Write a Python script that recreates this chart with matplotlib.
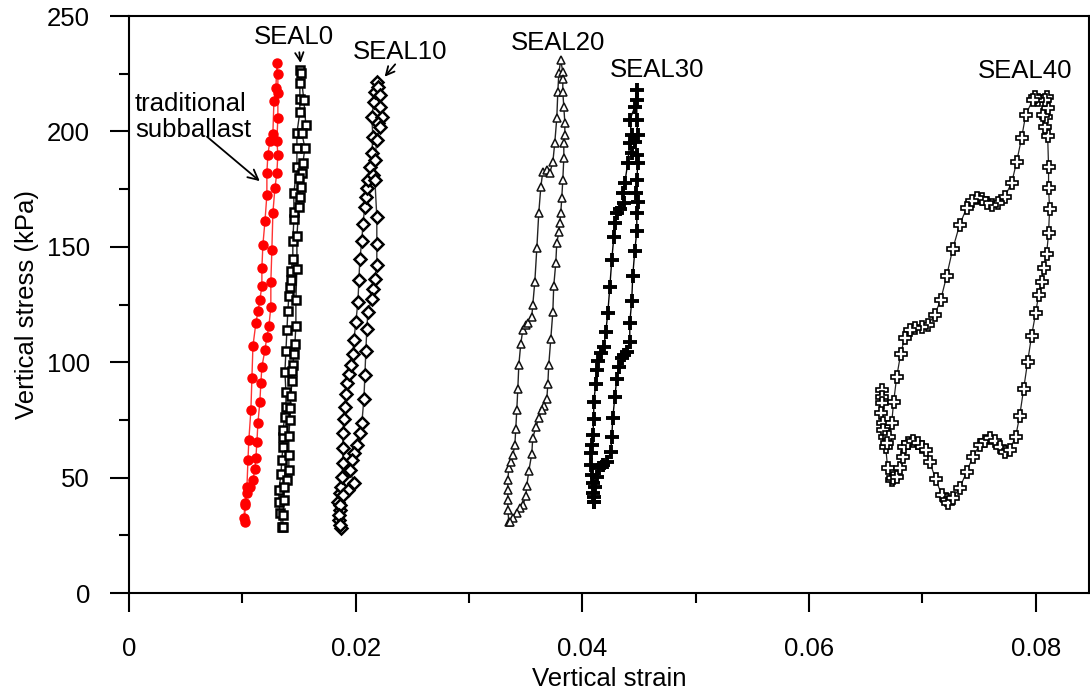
import matplotlib
matplotlib.use("Agg")
import matplotlib.pyplot as plt
from matplotlib.ticker import MultipleLocator

plt.rcParams['font.family'] = ['Liberation Sans', 'DejaVu Sans']

# ---------------- data ----------------
trad_strain = [0.01023,0.01023,0.01041,0.0105,0.01058,0.01076,0.01085,0.01094,0.0112,0.01138,
               0.01155,0.01173,0.01173,0.01182,0.012,0.01217,0.01217,0.01226,0.01244,0.0127,
               0.01279,0.01297,0.01305,
               0.01314,0.01314,0.01314,0.01305,0.01314,0.01305,0.01288,0.0127,0.01261,0.01252,
               0.01252,0.01235,0.01217,0.012,0.01173,0.01164,0.01155,0.01138,0.01129,0.0112,
               0.01111,0.01094,0.01067,0.01041,0.01023,0.01014]
trad_stress = [30.8,39,46,57.6,66.3,79.3,93.2,107,117,122,
               127,133,141,151,161,172.5,182,190,196,199,
               213,219,229.7,
               225,216.7,206,196,190,182,175.5,164.7,148.6,134.8,
               124,115.7,111,105.3,98,91,82.8,73.7,65.4,58.5,
               53.7,49,46,43.3,38,32.5]

seal0_strain = [0.01349,0.01332,0.01323,0.01323,0.01341,0.01349,0.01358,0.01358,0.01358,0.01376,
                0.01385,0.01385,0.01376,0.01385,0.01394,0.01402,0.01411,0.0142,0.01429,0.01429,
                0.01446,0.01446,0.01455,0.01455,0.01455,0.01482,0.01482,0.01482,0.01508,0.01508,
                0.01508,0.01508,
                0.01517,0.01543,0.01561,0.01526,0.01552,0.01535,0.01526,0.01499,0.01517,0.01508,
                0.01499,0.01482,0.01482,0.01473,0.01473,0.01464,0.01455,0.01446,0.01438,0.01438,
                0.01429,0.0142,0.0142,0.01411,0.01411,0.01411,0.01394,0.01367,0.01367,0.01358,
                0.01358]
seal0_stress = [28.6,34.7,39.4,44.6,51.6,57.6,63.3,67.6,70.6,76.3,
                80.6,87.1,95.8,104.9,114,122.2,128.7,132.6,135.6,139.5,
                144.7,152.5,162,165.1,173.3,184.6,192.8,199.3,208.4,214,
                221,226.6,
                225.3,213.6,202.8,199.3,192.8,186.3,182,179.8,175.9,171.6,
                167.3,154.7,140.4,127,115.7,107.9,103.6,98.8,96.2,91.9,
                85.4,80.2,75,68,59.8,53.3,49,45.9,40.3,33.8,
                28.6]

seal10_strain = [0.0187,0.01852,0.01861,0.01843,0.01861,0.0187,0.01879,0.01887,0.01887,0.01887,
                 0.01896,0.01905,0.01914,0.01923,0.0194,0.01958,0.01976,0.01985,0.02002,0.0202,
                 0.02029,0.02037,0.02055,0.02064,0.02082,0.0209,0.02099,0.02108,0.02126,0.02143,
                 0.02152,0.02143,0.02161,0.0217,0.02187,
                 0.02196,0.02214,0.02214,0.02231,0.02196,0.02214,0.02187,0.0217,0.02152,0.0217,
                 0.02187,0.02187,0.02187,0.0217,0.02152,0.02143,0.02108,0.02099,0.0209,0.02082,
                 0.02073,0.02055,0.02037,0.02011,0.01985,0.01967,0.01949,0.01985,0.01932,0.01887,
                 0.01861,0.01852,0.01861]
seal10_stress = [28.2,31.6,36,39.4,43.3,45.9,50.3,56.3,62.8,69.3,
                 75.4,80.6,86.2,91,94.9,98.8,103.6,109.6,117.4,126.1,
                 135.6,144.7,152.5,159.9,167.3,171.6,175.5,179,184.6,190.7,
                 197.6,206.3,212.8,217.1,221.4,
                 219.2,215.8,210.6,206.3,203.7,201.9,196.3,187.6,181.1,179,
                 162.9,151.2,142.1,136,131.7,127.4,121.8,114.4,104.9,94.5,
                 84.1,73.7,69.3,64.1,60.7,57.6,53.3,47.7,44.6,42.5,
                 38.1,33.8,29.5]

seal20_strain = [0.03352,0.03343,0.03343,0.03343,0.03343,0.03352,0.03369,0.03387,0.03405,0.03413,
                 0.03422,0.03431,0.0344,0.03457,0.03475,0.03502,0.03519,0.03554,0.03563,0.03581,
                 0.03599,0.03616,0.03634,0.03651,0.03687,0.03713,0.0374,0.03757,0.03775,0.03784,
                 0.03793,0.0381,
                 0.03828,0.03828,0.03828,0.03837,0.03846,0.03846,0.03837,0.03837,0.03828,0.03819,
                 0.0381,0.03801,0.03793,0.03775,0.03766,0.03748,0.0374,0.03722,0.03704,0.03696,
                 0.03687,0.0366,0.03643,0.03616,0.0359,0.03563,0.03554,0.03528,0.0351,0.03502,
                 0.03475,0.03449,0.03422,0.03387,0.0336]
seal20_stress = [30.8,36,40.3,44.6,49,54.2,56.8,59.8,64.1,71.1,
                 79.3,88.4,98.8,107.9,114,116.1,117,119.6,124.8,134.8,
                 149.5,164.7,175.9,182.4,183.3,182,186.7,195,205.8,217.1,
                 225.3,231,
                 225.7,222.7,217.1,210.6,203.7,198.5,195,188.5,179,171.2,
                 164.7,160.3,156.4,151.7,143,133,121.8,110.1,98.8,90.6,
                 84.1,81,79.3,75.8,71.9,67.2,60.2,52.9,46.4,42,
                 38.1,36.8,34.7,32.5,30.8]

seal30_strain = [0.04101,0.04093,0.04093,0.04084,0.04075,0.04075,0.04084,0.04093,0.04101,0.04101,
                 0.04119,0.04128,0.04137,0.04163,0.0419,0.04207,0.04225,0.04243,0.0426,0.04278,
                 0.04287,0.04304,0.04331,0.04366,0.04357,0.04375,0.04401,0.04419,0.04436,0.04419,
                 0.04463,0.04481,
                 0.04481,0.04481,0.0449,0.04463,0.04436,0.04481,0.0449,0.04481,0.04472,0.0449,
                 0.04481,0.04481,0.04463,0.04445,0.04436,0.04419,0.04419,0.04392,0.04366,0.04348,
                 0.04322,0.04304,0.04287,0.04269,0.0426,0.04251,0.04216,0.04181,0.04145,0.04128,
                 0.0411,0.04101,0.04101]
seal30_stress = [39.4,43.3,47.7,51.1,55.5,60.7,64.1,68.5,75.4,82.8,
                 90.6,96.6,100.5,104,106.6,113.1,121.3,132.6,144.3,154.3,
                 160.3,164.7,166.4,169,173.3,177.7,186.3,195,198.5,205,
                 210.6,218,
                 213.6,205,198.5,195.4,190.7,189.8,186.3,179,173.3,169.4,
                 164.7,156.9,148.2,137.4,126.5,117,108.8,104.4,103.1,101.8,
                 97.9,92.7,84.9,75.8,67.6,61.1,56.8,55.5,54.2,50.3,
                 45.9,41.6,39.4]

seal40_strain = [0.06641,0.06641,0.06641,0.06633,0.0665,0.0665,0.06668,0.06677,0.06694,0.0673,
                 0.06738,0.06774,0.068,0.06827,0.06836,0.06871,0.06915,0.06959,0.06994,0.0703,
                 0.07065,0.07118,0.07171,0.07215,0.07224,0.07268,0.07329,0.07391,0.07444,0.07506,
                 0.0755,0.07594,0.07638,0.07682,0.07726,0.0777,0.07823,0.07859,0.07894,0.07929,
                 0.07964,0.08,0.08026,0.08053,0.0807,0.08097,0.08114,0.08123,0.08114,0.08114,
                 0.08106,0.08079,0.08088,0.08061,0.08106,0.08097,0.08079,0.08017,0.07991,0.07973,
                 0.07912,0.07876,0.07832,0.07788,0.07726,0.07665,0.07612,0.07568,0.07523,0.07479,
                 0.07435,0.07391,0.07329,0.07268,0.07215,0.07162,0.07109,0.07047,0.06994,0.06933,
                 0.06888,0.06844,0.06809,0.06774,0.06747,0.0673,0.06703,0.06686]
seal40_stress = [88,84.9,82.3,78,73.7,70.6,67.6,63.3,54.2,49,
                 49.8,50.3,54.2,58.9,63.3,65,65.9,65,63.3,62,
                 56.8,49.4,42.5,40.3,39,41.2,45.5,52.4,58.9,64.1,
                 65.9,67.2,65.9,63.3,61.1,62,67.6,76.7,88.4,100.1,
                 111.4,121.3,129.1,134.8,140.8,146.9,156,166.4,175.5,184.6,
                 198,201.9,206.3,207.1,210.2,214.9,213.6,213.6,214.9,213.6,
                 207.1,197.2,186.7,177.7,171.6,169,168.1,169,170.7,171.2,
                 169.9,166.8,159.5,149,137.4,127,120.5,116.1,115.3,114.8,
                 114,110.5,103.6,93.6,82.8,73.7,67.6,65]

x_ticks = [0, 0.02, 0.04, 0.06, 0.08]
x_tick_labels = ["0", "0.02", "0.04", "0.06", "0.08"]
y_ticks = [0, 50, 100, 150, 200, 250]

# ---------------- figure ----------------
fig = plt.figure(figsize=(10.9, 6.98), dpi=100)
ax = fig.add_axes([0.1183, 0.1504, 0.8807, 0.8266])

FS = 18.5

ax.plot(trad_strain, trad_stress, '-', color='#ff3333', lw=1.0, marker='o', ms=6.5,
        mfc='#ff0000', mec='#ff0000', zorder=3)
ax.plot(seal0_strain, seal0_stress, '-', color='#222222', lw=1.0, marker='s', ms=5.5,
        mfc='white', mec='black', mew=1.8, zorder=3)
ax.plot(seal10_strain, seal10_stress, '-', color='#333333', lw=1.0, marker='D', ms=6.5,
        mfc='white', mec='black', mew=1.8, zorder=3)
ax.plot(seal20_strain, seal20_stress, '-', color='#222222', lw=1.0, marker='^', ms=6,
        mfc='white', mec='#111111', mew=1.1, zorder=3)
ax.plot(seal30_strain, seal30_stress, '-', color='black', lw=1.0, marker='+', ms=10,
        mec='black', mew=2.8, zorder=3)
ax.plot(seal40_strain, seal40_stress, '-', color='#222222', lw=0.9, marker='P', ms=8,
        mfc='white', mec='black', mew=1.2, zorder=3)

ax.set_xlim(0, 0.0847)
ax.set_ylim(0, 250)
ax.set_xticks(x_ticks)
ax.set_xticklabels(x_tick_labels)
ax.set_yticks(y_ticks)
ax.xaxis.set_minor_locator(MultipleLocator(0.01))
ax.yaxis.set_minor_locator(MultipleLocator(25))

for s in ax.spines.values():
    s.set_linewidth(1.5)

ax.tick_params(axis='both', which='major', direction='out', length=14, width=1.5,
               labelsize=FS, top=False, right=False)
ax.tick_params(axis='both', which='minor', direction='out', length=7, width=1.5,
               top=False, right=False)
ax.tick_params(axis='x', which='major', pad=18)
ax.tick_params(axis='y', which='major', pad=14)

ax.set_xlabel("Vertical strain", fontsize=FS, labelpad=4)
ax.set_ylabel("Vertical stress (kPa)", fontsize=FS, labelpad=6)

# annotations
ax.text(0.01455, 240.9, "SEAL0", fontsize=FS, ha='center', va='center')
ax.annotate("", xy=(0.01517, 228.5), xytext=(0.0150, 235.5),
            arrowprops=dict(arrowstyle='->', lw=1.3, color='black', mutation_scale=15))
ax.text(0.0239, 234.4, "SEAL10", fontsize=FS, ha='center', va='center')
ax.annotate("", xy=(0.02240, 222.8), xytext=(0.02365, 230.0),
            arrowprops=dict(arrowstyle='->', lw=1.3, color='black', mutation_scale=15))
ax.text(0.03784, 238.3, "SEAL20", fontsize=FS, ha='center', va='center')
ax.text(0.04657, 226.6, "SEAL30", fontsize=FS, ha='center', va='center')
ax.text(0.07903, 226.2, "SEAL40", fontsize=FS, ha='center', va='center')
ax.text(0.00053, 206.3, "traditional\nsubballast", fontsize=FS, ha='left', va='center',
        linespacing=1.1)
ax.annotate("", xy=(0.01173, 177.7), xytext=(0.0067, 198.5),
            arrowprops=dict(arrowstyle='->', lw=1.3, color='black', mutation_scale=18))

fig.savefig("out.png", dpi=100)
